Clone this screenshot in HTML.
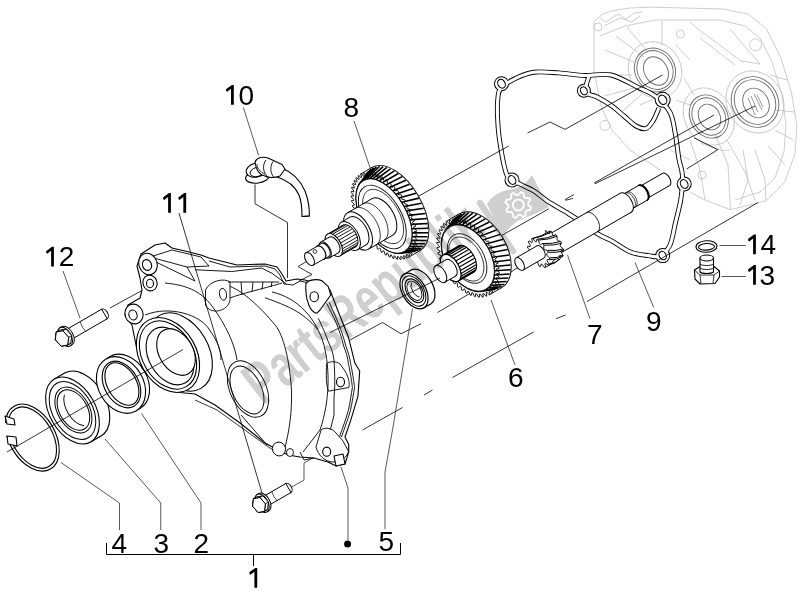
<!DOCTYPE html>
<html><head><meta charset="utf-8">
<style>
html,body{margin:0;padding:0;background:#fff;}
body{width:800px;height:600px;overflow:hidden;position:relative;}
svg{position:absolute;left:0;top:0;}
.t{font-family:"Liberation Sans",sans-serif;font-size:28px;fill:#000;}
.wm{font-family:"Liberation Sans",sans-serif;font-weight:bold;font-size:49px;fill:#cfcfcf;}
</style></head><body>
<svg width="800" height="600" viewBox="0 0 800 600">
<defs>
<symbol id="bolt" overflow="visible">
</symbol>
</defs>

<!-- CRANKCASE GHOST -->
<g id="case" fill="none" stroke="#c0c0c0" stroke-width="0.8" stroke-linejoin="round">
<path d="M594 21.5 L603 14 L612 10.75 L630 8 L651.7 7.2 L723 9 L748.5 14.3 L766.4 28.7 L780.7 57.3 L791.5 93 L796.8 125.4 L795 154 L784.3 182.8 L766.4 200.7 L730.5 209.7 L705 200 L690 192"/>
<path d="M594 21.5 L594 71.7 L601.5 107.5 L612 130 L630 150 L660 170"/>
<path d="M600 18 L606 22 L618 14 L626 19 L634 13 L642 12 M604 26 L620 18 L632 22 L640 16"/>
<path d="M600 36 L625 26 L655 20 L720 20 L745 26 L760 38 L772 62 L782 95 L786 125 L784 152 L775 178 L760 192 L735 200"/>
<path d="M616 36 L644 57 M627 27 L648 52 M662 21 L662 46 M605 50 L634 62 M602 75 L632 75 M604 96 L634 88 M618 115 L642 94"/>
<path d="M698 29 L741 61 L760 64 L730 29 M700 38 L735 65 M690 22 L698 29"/>
<path d="M676 45 L690 60 M684 78 L694 95 M676 100 L690 105 M640 105 L660 96"/>
<path d="M770 75 L787 80 M775 110 L794 112 M775 130 L793 140 M768 146 L785 165 M755 150 L765 180 L766 200 M743 150 L748 180 L740 205"/>
<path d="M716 136 L728 165 L730.5 209.7 M727 140 L745 172 L755 200 M700 143 L722 150.5 L730 150"/>
<path d="M690 140 L700 170 L705 200 M670 150 L690 160"/>
<circle cx="598" cy="27" r="4"/><circle cx="680.4" cy="34" r="4"/><circle cx="755.6" cy="44.8" r="6"/>
<circle cx="605" cy="125.4" r="5"/><circle cx="702" cy="175" r="4"/>
<ellipse cx="655" cy="70" rx="26" ry="29" transform="rotate(-30 655 70)"/>
<ellipse cx="708.8" cy="116.5" rx="24" ry="30" transform="rotate(-30 708.8 116.5)"/>
<ellipse cx="755" cy="102" rx="28" ry="32" transform="rotate(-30 755 102)"/>
</g>
<g fill="none" stroke="#6a6a6a" stroke-width="0.9">
<ellipse cx="655" cy="70" rx="20" ry="22.5" transform="rotate(-30 655 70)"/>
<ellipse cx="655" cy="70" rx="17.5" ry="20" transform="rotate(-30 655 70)"/>
<ellipse cx="656" cy="71" rx="11.5" ry="15" transform="rotate(-30 656 71)"/>
<ellipse cx="708.8" cy="116.5" rx="18.5" ry="22.5" transform="rotate(-30 708.8 116.5)"/>
<ellipse cx="708.8" cy="116.5" rx="16" ry="19.5" transform="rotate(-30 708.8 116.5)"/>
<ellipse cx="709.5" cy="117" rx="10.5" ry="13.5" transform="rotate(-30 709.5 117)"/>
<ellipse cx="755" cy="102" rx="23" ry="26" transform="rotate(-30 755 102)"/>
<ellipse cx="755" cy="102" rx="20" ry="23" transform="rotate(-30 755 102)"/>
<ellipse cx="756" cy="103" rx="12.5" ry="15.5" transform="rotate(-30 756 103)"/>
<path d="M751 96 L758 112 M754 94 L762 110 M748 98 L755 115 M757 95 L763 107" stroke-width="0.7"/>
</g>
<g fill="none" stroke-linejoin="round">
<path d="M497.9 98.0 C498.5 93.3 498.0 91.3 501.0 88.0 C504.0 84.7 510.3 80.9 515.8 78.3 C521.2 75.7 526.5 73.1 533.7 72.2 C540.9 71.3 550.2 72.4 558.8 72.9 C567.3 73.5 576.3 75.2 585.0 75.5 C593.7 75.8 602.2 73.0 611.0 75.0 C619.8 77.0 630.3 83.7 637.6 87.2 C644.9 90.7 649.6 91.8 655.0 96.0 C660.4 100.2 666.6 106.0 670.0 112.3 C673.4 118.6 673.8 126.0 675.3 133.8 C676.8 141.6 677.7 152.0 678.9 158.9 C680.1 165.8 682.0 168.4 682.4 175.0 C682.8 181.6 682.2 190.2 681.0 198.3 C679.8 206.4 677.1 215.6 675.3 223.4 C673.5 231.2 672.5 239.6 670.0 245.0 C667.5 250.4 663.6 254.2 660.0 256.0 C656.4 257.8 653.3 256.3 648.4 255.6 C643.5 254.9 636.5 254.4 630.5 252.0 C624.5 249.6 618.0 244.3 612.6 241.3 C607.2 238.3 603.6 237.5 598.2 234.1 C592.8 230.7 585.5 224.8 580.0 221.0 C574.5 217.2 570.3 214.8 565.0 211.5 C559.7 208.2 553.2 204.9 548.0 201.5 C542.8 198.1 538.7 193.9 534.0 191.0 C529.3 188.1 524.5 186.7 520.0 184.0 C515.5 181.3 510.4 182.2 507.0 175.0 C503.6 167.8 501.3 150.8 499.7 141.0 C498.1 131.2 497.8 123.1 497.5 115.9 C497.2 108.7 497.3 102.7 497.9 98.0Z M589.0 76.0 C588.5 77.7 586.5 83.2 586.0 86.0 C585.5 88.8 584.2 91.2 586.0 93.0 C587.8 94.8 592.7 94.8 597.0 97.0 C601.3 99.2 607.5 102.8 612.0 106.0 C616.5 109.2 620.0 112.7 624.0 116.0 C628.0 119.3 632.3 123.9 636.0 126.0 C639.7 128.1 643.2 129.3 646.0 128.5 C648.8 127.7 650.8 124.4 653.0 121.0 C655.2 117.6 658.0 110.2 659.0 108.0" stroke="#000" stroke-width="4.9"/>
<circle cx="501.5" cy="83.7" r="7.5" fill="#000"/>
<circle cx="583.9" cy="90.8" r="7" fill="#000"/>
<circle cx="662.7" cy="99.8" r="8" fill="#000"/>
<circle cx="684.2" cy="184" r="7.5" fill="#000"/>
<circle cx="662.7" cy="255.6" r="7.5" fill="#000"/>
<circle cx="512" cy="180" r="7.5" fill="#000"/>
<path d="M497.9 98.0 C498.5 93.3 498.0 91.3 501.0 88.0 C504.0 84.7 510.3 80.9 515.8 78.3 C521.2 75.7 526.5 73.1 533.7 72.2 C540.9 71.3 550.2 72.4 558.8 72.9 C567.3 73.5 576.3 75.2 585.0 75.5 C593.7 75.8 602.2 73.0 611.0 75.0 C619.8 77.0 630.3 83.7 637.6 87.2 C644.9 90.7 649.6 91.8 655.0 96.0 C660.4 100.2 666.6 106.0 670.0 112.3 C673.4 118.6 673.8 126.0 675.3 133.8 C676.8 141.6 677.7 152.0 678.9 158.9 C680.1 165.8 682.0 168.4 682.4 175.0 C682.8 181.6 682.2 190.2 681.0 198.3 C679.8 206.4 677.1 215.6 675.3 223.4 C673.5 231.2 672.5 239.6 670.0 245.0 C667.5 250.4 663.6 254.2 660.0 256.0 C656.4 257.8 653.3 256.3 648.4 255.6 C643.5 254.9 636.5 254.4 630.5 252.0 C624.5 249.6 618.0 244.3 612.6 241.3 C607.2 238.3 603.6 237.5 598.2 234.1 C592.8 230.7 585.5 224.8 580.0 221.0 C574.5 217.2 570.3 214.8 565.0 211.5 C559.7 208.2 553.2 204.9 548.0 201.5 C542.8 198.1 538.7 193.9 534.0 191.0 C529.3 188.1 524.5 186.7 520.0 184.0 C515.5 181.3 510.4 182.2 507.0 175.0 C503.6 167.8 501.3 150.8 499.7 141.0 C498.1 131.2 497.8 123.1 497.5 115.9 C497.2 108.7 497.3 102.7 497.9 98.0Z M589.0 76.0 C588.5 77.7 586.5 83.2 586.0 86.0 C585.5 88.8 584.2 91.2 586.0 93.0 C587.8 94.8 592.7 94.8 597.0 97.0 C601.3 99.2 607.5 102.8 612.0 106.0 C616.5 109.2 620.0 112.7 624.0 116.0 C628.0 119.3 632.3 123.9 636.0 126.0 C639.7 128.1 643.2 129.3 646.0 128.5 C648.8 127.7 650.8 124.4 653.0 121.0 C655.2 117.6 658.0 110.2 659.0 108.0" stroke="#fff" stroke-width="3.1"/>
<circle cx="501.5" cy="83.7" r="6.5" fill="#fff"/>
<circle cx="583.9" cy="90.8" r="6.0" fill="#fff"/>
<circle cx="662.7" cy="99.8" r="7.0" fill="#fff"/>
<circle cx="684.2" cy="184" r="6.5" fill="#fff"/>
<circle cx="662.7" cy="255.6" r="6.5" fill="#fff"/>
<circle cx="512" cy="180" r="6.5" fill="#fff"/>
<ellipse cx="501.5" cy="83.7" rx="3.57" ry="4.620000000000001" transform="rotate(-30 501.5 83.7)" stroke="#000" stroke-width="1.1" fill="#fff"/>
<ellipse cx="583.9" cy="90.8" rx="3.23" ry="4.18" transform="rotate(-30 583.9 90.8)" stroke="#000" stroke-width="1.1" fill="#fff"/>
<ellipse cx="662.7" cy="99.8" rx="3.8249999999999997" ry="4.95" transform="rotate(-30 662.7 99.8)" stroke="#000" stroke-width="1.1" fill="#fff"/>
<ellipse cx="684.2" cy="184" rx="3.57" ry="4.620000000000001" transform="rotate(-30 684.2 184)" stroke="#000" stroke-width="1.1" fill="#fff"/>
<ellipse cx="662.7" cy="255.6" rx="3.4" ry="4.4" transform="rotate(-30 662.7 255.6)" stroke="#000" stroke-width="1.1" fill="#fff"/>
<ellipse cx="512" cy="180" rx="3.57" ry="4.620000000000001" transform="rotate(-30 512 180)" stroke="#000" stroke-width="1.1" fill="#fff"/>
</g>
<!-- AXIS / DASHED LINES -->
<g fill="none" stroke="#000" stroke-width="0.8">
<path d="M110 308 L151 285.5"/>
<path d="M350 340 L382.5 322.5 L401 333.75 L421 323.75 M437.5 312.5 L480 287.5"/>
<path d="M362.5 430 L402.5 407.5 M424 395 L432.5 390 M452.5 377.5 L533.75 331.9 M556 318.75 L565.6 315 M587 301.5 L758 202.5"/>
<path d="M390 212 L508.7 146 M527.5 133 L550 122 L565 129.4 L662.5 75"/>
<path d="M493.75 240.0 L548.75 208.8 M565 199.6 L574 194.5 M594 183.1 L714 115"/>
<path d="M694 137.8 L717.8 149.7 L686.6 169"/>
<path d="M595 183.75 L755 106"/>
<path d="M507.5 274.4 L520 266"/>
<path d="M565.6 200.3 L573 198.4"/>
</g>
<!-- LEADERS -->
<g fill="none" stroke="#222" stroke-width="0.75">
<path d="M243.4 107.6 L258.6 155.4"/>
<path d="M354 121 L370.5 169"/>
<path d="M63 271 L80 318"/>
<path d="M719.5 245.5 H746"/>
<path d="M721.5 276.5 H746"/>
<path d="M635 262.5 L653.75 307.5"/>
<path d="M567.5 255 L590 318.75"/>
<path d="M491 300 L515 365"/>
<path d="M412.5 308.75 L392.5 430 L385 472 V529"/>
<path d="M341 467 L348 488 V540"/>
<path d="M61 462.5 L119.5 503 V530"/>
<path d="M105 439 L160.75 503 V530"/>
<path d="M141.5 413.5 L201 503 V530"/>
<path d="M290.8 487.5 L304 480 V463 L326.7 450"/>
</g>

<!-- bracket -->
<g fill="none" stroke="#000" stroke-width="1">
<path d="M106.5 543 V554.5 H400.5 V543"/>
<path d="M253.5 554.5 V566"/>
</g>
<circle cx="347.6" cy="544" r="3.5" fill="#000"/>

<g class="t">
<text x="238.4" y="104.5">0</text>
<text x="343.4" y="117">8</text>
<text x="58.75" y="266">2</text>
<text x="760.5" y="254">4</text>
<text x="759.5" y="284.5">3</text>
<text x="646" y="331">9</text>
<text x="587" y="344">7</text>
<text x="508" y="387">6</text>
<text x="378.4" y="551.4">5</text>
<text x="111.5" y="552.5">4</text>
<text x="153.5" y="552.5">3</text>
<text x="193.5" y="552.5">2</text>
</g>
<path fill="#000" d="M231.90 84.90 L233.80 84.90 L233.80 104.65 L231.00 104.65 L231.00 88.80 L227.10 91.80 L225.90 90.60 L226.20 89.10Z M169.00 193.00 L170.90 193.00 L170.90 212.75 L168.10 212.75 L168.10 196.90 L164.20 199.90 L163.00 198.70 L163.30 197.20Z M184.25 193.00 L186.15 193.00 L186.15 212.75 L183.35 212.75 L183.35 196.90 L179.45 199.90 L178.25 198.70 L178.55 197.20Z M52.00 246.75 L53.90 246.75 L53.90 266.50 L51.10 266.50 L51.10 250.65 L47.20 253.65 L46.00 252.45 L46.30 250.95Z M754.00 234.50 L755.90 234.50 L755.90 254.25 L753.10 254.25 L753.10 238.40 L749.20 241.40 L748.00 240.20 L748.30 238.70Z M754.00 265.00 L755.90 265.00 L755.90 284.75 L753.10 284.75 L753.10 268.90 L749.20 271.90 L748.00 270.70 L748.30 269.20Z M255.30 567.90 L257.20 567.90 L257.20 587.65 L254.40 587.65 L254.40 571.80 L250.50 574.80 L249.30 573.60 L249.60 572.10Z"/>

<!-- PARTS -->
<g fill="#fff" stroke="#000" stroke-width="1.1" stroke-linejoin="round">
<!-- circlip 4 -->
<ellipse cx="32.3" cy="437.6" rx="23" ry="36.3" transform="rotate(-30 32.3 437.6)"/>
<ellipse cx="32.3" cy="437.6" rx="20.3" ry="33.4" transform="rotate(-30 32.3 437.6)"/>
<rect x="0" y="423" width="13" height="13" stroke="none"/>
<path d="M5 416 L14 419 L15 425 L7 424 Z"/>
<path d="M7 436 L16 437 L17 446 L8 444 Z"/>
<g><ellipse cx="82.9" cy="404.5" rx="22.9" ry="36.3" transform="rotate(-30 82.9 404.5)" fill="#fff" stroke="#000" stroke-width="1.1" />
<path d="M101.0 435.9 L90.6 441.9 L54.4 379.1 L64.7 373.1" fill="#fff" stroke="#000" stroke-width="1.1"/>
<ellipse cx="72.5" cy="410.5" rx="22.9" ry="36.3" transform="rotate(-30 72.5 410.5)" fill="#fff" stroke="#000" stroke-width="1.1" />
<ellipse cx="72.5" cy="410.5" rx="19.8" ry="31.5" transform="rotate(-30 72.5 410.5)" fill="none" stroke="#000" stroke-width="1.0" />
<ellipse cx="73.4" cy="410.0" rx="15.8" ry="25.0" transform="rotate(-30 73.4 410.0)" fill="#fff" stroke="#000" stroke-width="1.0" />
<ellipse cx="73.4" cy="410.0" rx="13.9" ry="22.0" transform="rotate(-30 73.4 410.0)" fill="#fff" stroke="#000" stroke-width="1.0" />
<ellipse cx="79.4" cy="406.5" rx="13.2" ry="21.0" transform="rotate(-30 79.4 406.5)" fill="none" stroke="#000" stroke-width="0.9" stroke-dasharray="0 33 40 200"/></g>
<!-- seal 2 -->
<ellipse cx="125" cy="382.5" rx="22.5" ry="30" transform="rotate(-30 125 382.5)"/>
<ellipse cx="121" cy="385" rx="22.5" ry="30" transform="rotate(-30 121 385)"/>
<ellipse cx="121.5" cy="384.5" rx="17" ry="25" transform="rotate(-30 121.5 384.5)"/>
<ellipse cx="121.9" cy="384" rx="14.5" ry="23" transform="rotate(-30 121.9 384)"/>
</g>

<!-- COVER 11 -->
<g fill="#fff" stroke="#000" stroke-width="1.1" stroke-linejoin="round">
<path d="M141 254 L155 245 L165 243 L172 248 L185 251 L201 255 L209 258 L229 263 L237 265 L265 264 L277 267 L282 274 L286 281 L297 279 L305 280 L314 283 L322 281 L330 290 L338.3 311.7 L348.3 336.7 L355 363.3 L359.7 371 L357.9 396.7 L350.6 420.6 L345 437 L348.7 444.4 L348.7 452 L345 464 L336 466 L328 462 L314 458 L300 457 L288 455 L276 449 L265 443 L240 423 L215 405 L195 394 L175 392 L158 385 L142 368 L136 345 L132 325 L125 315 L128 305 L140 298 L142 290 L140 278 L137 266 Z"/>
<g fill="none" stroke-width="0.9">
<path d="M150 257 L172 250 L201 257 L209 266 L187 267 Z"/>
<path d="M156 262 L195 281 L187 267"/>
<path d="M195 269.75 L231.75 271.5 L261.5 268 L272 273.25 L286 283.75"/>
<path d="M209 261 L230 267 L265 266 L275 269 L280 275 L284 284 L293 285 L300 281 L314 284"/>
<path d="M228 282 L279 282 M230 298 C240 294 262 289 282 283 M241 282 L242 295 M253 282 L252 292 M263 282 L262 289.5 M272 282 L271 287"/>
<path d="M205.5 290 C210 280 225 278 230 282 L230 300 C228 312 210 315 205.5 305 Z"/>
<path d="M265 297.75 C280 303 292 308 300 313.5 C308 319 313 324 317.5 329.25"/>
<path d="M165 283 C185 285 200 290 212 306 C226 325 235 345 237 360"/>
<path d="M145 315 C170 305 200 315 209 329 C218 342 221 350 221 360"/>
<path d="M272 292 C298 298 316 318 324 345 C330 370 330 400 320 430 L303 452"/>
<path d="M229.8 286.3 C245 292 265 312 277 327.5 C285 340 290 365 291.5 390.8 C292 410 290 430 283.6 452.5"/>




<path d="M300 452 L304 460 L314 458"/>
<path d="M326.7 303.3 C330 310 333 316 335 320 C339 330 342 338 343.3 345 C346 352 348 358 348.3 363.3 C351 375 352.4 387.5 352.4 387.5 C350 402 349 410 346.9 415 C344 425 341 432 339.5 437"/>
<path d="M329 302 C332 309 335 315 337 320 C341 330 344 338 345.5 345 C348 352 350 358 350.6 363.3 C353 375 354.6 387.5 354.6 387.5 C352 402 351 410 349 415 C346 425 343 432 341.5 437"/>
<path d="M318.3 318.3 C322 326 326 335 328.3 341.7 C331 348 333 352 334 360 C335 375 335 390 334 396.7 L334 415 L330.4 429.7"/>
<path d="M326.7 363.7 C330 361 336 361 340 364 L345 371 C349 378 350 384 348.7 387.5 L328.5 391.2 C326 385 326 375 326.7 363.7 Z"/>
<path d="M321.2 429.7 C326 427 332 428 336 433 L343 441 L348.7 451.7 C346 458 340 462 333 462 C325 462 318 455 316 447 Z"/>
<path d="M241 415 L267 445"/>
</g>
<ellipse cx="248" cy="389" rx="18" ry="30" transform="rotate(-25 248 389)" fill="none" stroke-width="0.9"/>
<ellipse cx="247" cy="390" rx="14.5" ry="25.5" transform="rotate(-25 247 390)" fill="none" stroke-width="0.9"/>
<ellipse cx="148" cy="264" rx="9" ry="11" transform="rotate(-20 148 264)"/><ellipse cx="147" cy="265" rx="4.5" ry="5.5" transform="rotate(-20 147 265)"/>
<ellipse cx="150" cy="283" rx="7" ry="8" transform="rotate(-20 150 283)"/><ellipse cx="150" cy="283.5" rx="3.5" ry="4.2"/>
<ellipse cx="134" cy="314" rx="9" ry="10" transform="rotate(-20 134 314)"/><ellipse cx="133" cy="315" rx="4" ry="5" transform="rotate(-20 133 315)"/>
<ellipse cx="223" cy="294.25" rx="3.5" ry="6" transform="rotate(-10 223 294.25)" fill="none" stroke-width="0.9"/>
<path d="M305.8 284 C308 279 318 279 322 280.8 L328.3 286.7 L330.8 295 L320 310 L316.7 313.3 C310 312 306 300 305.8 290 Z"/>
<ellipse cx="314.2" cy="296.7" rx="4.2" ry="5"/>
<ellipse cx="340.5" cy="382" rx="4" ry="4.8"/>
<ellipse cx="326.7" cy="451.7" rx="4" ry="4.6"/>
<path d="M334 456 L343 454 L345 464 L336 466 Z"/>
<path d="M195 400 L217 410 L242 428 L267 446 L276 452" fill="none" stroke-width="0.8"/>
<ellipse cx="279" cy="449" rx="6.5" ry="7" transform="rotate(-20 279 449)" stroke-width="0.9"/>
<ellipse cx="290" cy="452.5" rx="3.5" ry="4" stroke-width="0.9"/>
<!-- bore -->
<ellipse cx="180" cy="352" rx="28.5" ry="42" transform="rotate(-30 180 352)"/>
<ellipse cx="168" cy="355" rx="28.3" ry="40" transform="rotate(-30 168 355)"/>
<ellipse cx="168" cy="355" rx="25.5" ry="36.5" transform="rotate(-30 168 355)"/>
<ellipse cx="170" cy="356" rx="21" ry="31" transform="rotate(-30 170 356)"/>
<ellipse cx="176" cy="352" rx="17" ry="25" transform="rotate(-30 176 352)"/>
</g>
<!-- cover bore axis line on top -->
<path d="M7 452 L183 349.5" stroke="#000" stroke-width="0.8" fill="none"/>

<g fill="none" stroke="#000" stroke-width="0.8">
<path d="M179 213 L262 493"/>
<path d="M255 184.4 V203.75 L287.5 222.5 V278"/>
<path d="M309 260 L298 266.5 L312 274.5 L299 281"/>
</g>
<g stroke-linejoin='round'><ellipse cx="104.4" cy="314.0" rx="3.3" ry="5.5" transform="rotate(-30 104.4 314.0)" fill="#fff" stroke="#000" stroke-width="1.0" />
<path d="M69.9 340.3 L107.2 318.8 L101.7 309.2 L64.4 330.7" fill="#fff" stroke="#000" stroke-width="1.0"/>
<path d="M80.1 321.7 Q81.8 327.5 85.6 331.2" fill="none" stroke="#000" stroke-width="0.7"/>
<ellipse cx="66.8" cy="335.8" rx="6.3" ry="10.5" transform="rotate(-30 66.8 335.8)" fill="#fff" stroke="#000" stroke-width="1.0" />
<path d="M72.0 344.8 L70.3 345.8 L59.8 327.7 L61.5 326.7" fill="#fff" stroke="#000" stroke-width="1.0"/>
<ellipse cx="65.0" cy="336.8" rx="6.3" ry="10.5" transform="rotate(-30 65.0 336.8)" fill="#fff" stroke="#000" stroke-width="1.0" />
<path d="M55.3 339.7 L56.3 332.0 L59.3 330.2 L66.0 329.0 L71.7 335.5 L70.8 343.3 L67.7 345.0 L61.1 346.2Z" fill="#fff" stroke="#000" stroke-width="1.0"/>
<path d="M68.7 337.3 L67.7 345.0 L61.1 346.2 L55.3 339.7 L56.3 332.0 L62.9 330.8Z" fill="#fff" stroke="#000" stroke-width="1.0"/>
<path d="M68.7 337.3 L71.7 335.5 M67.7 345.0 L70.8 343.3 M61.1 346.2 L64.1 344.5 M55.3 339.7 L58.4 338.0 M56.3 332.0 L59.3 330.2 M62.9 330.8 L66.0 329.0" fill="none" stroke="#000" stroke-width="0.8"/>
<path d="M68.7 337.3 L67.7 345.0 L61.1 346.2 L55.3 339.7 L56.3 332.0 L62.9 330.8Z" fill="#fff" stroke="#000" stroke-width="1.0"/></g><g stroke-linejoin='round'><ellipse cx="288.4" cy="488.0" rx="3.1" ry="5.2" transform="rotate(-30 288.4 488.0)" fill="#fff" stroke="#000" stroke-width="1.0" />
<path d="M266.8 506.5 L291.0 492.5 L285.8 483.5 L261.6 497.5" fill="#fff" stroke="#000" stroke-width="1.0"/>
<path d="M271.8 491.6 Q273.4 497.1 277.0 500.6" fill="none" stroke="#000" stroke-width="0.7"/>
<ellipse cx="263.8" cy="502.2" rx="6.0" ry="10.0" transform="rotate(-30 263.8 502.2)" fill="#fff" stroke="#000" stroke-width="1.0" />
<path d="M268.8 510.9 L267.0 511.9 L257.0 494.6 L258.8 493.6" fill="#fff" stroke="#000" stroke-width="1.0"/>
<ellipse cx="262.0" cy="503.2" rx="6.0" ry="10.0" transform="rotate(-30 262.0 503.2)" fill="#fff" stroke="#000" stroke-width="1.0" />
<path d="M252.6 506.2 L253.5 498.7 L256.5 497.0 L262.9 495.8 L268.5 502.1 L267.6 509.5 L264.5 511.3 L258.1 512.5Z" fill="#fff" stroke="#000" stroke-width="1.0"/>
<path d="M265.4 503.8 L264.5 511.3 L258.1 512.5 L252.6 506.2 L253.5 498.7 L259.9 497.5Z" fill="#fff" stroke="#000" stroke-width="1.0"/>
<path d="M265.4 503.8 L268.5 502.1 M264.5 511.3 L267.6 509.5 M258.1 512.5 L261.1 510.7 M252.6 506.2 L255.6 504.4 M253.5 498.7 L256.5 497.0 M259.9 497.5 L262.9 495.8" fill="none" stroke="#000" stroke-width="0.8"/>
<path d="M265.4 503.8 L264.5 511.3 L258.1 512.5 L252.6 506.2 L253.5 498.7 L259.9 497.5Z" fill="#fff" stroke="#000" stroke-width="1.0"/></g>
<!-- HOSE 10 -->
<g fill="#fff" stroke="#000" stroke-width="1.1" stroke-linejoin="round">
<path d="M282.5 168.5 C292 172 300 180 305 191 C308.5 200 309.5 208 309.4 216 L302 216.5 C302 208 301 200 299 195 C295 186 287 180 277 177 Z"/>
<ellipse cx="257.5" cy="177" rx="12" ry="6" transform="rotate(-8 257.5 177)"/>
<ellipse cx="256.5" cy="170" rx="10.5" ry="7" transform="rotate(-15 256.5 170)"/>
<ellipse cx="257" cy="172" rx="7" ry="4.5" transform="rotate(-15 257 172)" fill="none" stroke-width="0.9"/>
<path d="M255 162 C257 157 263 156.5 268 158 L282 164.5 L285 169 L280 176 C275 178 268 178 265 176 C260 175 256 170 255 162 Z"/>
<path d="M266 160 C262 165 263 173 268 177 M273 161.5 C270 166 270 173 274 177.5" fill="none" stroke-width="0.9"/>
<path d="M257 164 C257 168 260 172 265 174" fill="none" stroke-width="0.8"/>
</g>
<path d="M302 216.5 L309.4 216" stroke="#000" stroke-width="1.1"/>
<g><ellipse cx="396.0" cy="209.0" rx="25.9" ry="48.0" transform="rotate(-30 396.0 209.0)" fill="#fff" stroke="#000" stroke-width="0.9" />
<path d="M408.0 257.6 L420.0 250.6 L372.0 167.4 L360.0 174.4" fill="#fff" stroke="#000" stroke-width="0.9"/>
<path d="M404.9 203.9 L407.2 204.3 L407.9 205.6 L406.8 207.5 L407.4 208.7 L409.8 209.4 L410.4 210.7 L409.1 212.3 L409.6 213.5 L412.1 214.7 L412.6 216.0 L411.0 217.2 L411.4 218.4 L413.9 219.9 L414.3 221.2 L412.5 222.1 L412.9 223.3 L415.3 225.1 L415.6 226.4 L413.6 226.9 L413.9 228.0 L416.3 230.2 L416.5 231.4 L414.3 231.5 L414.4 232.6 L416.8 235.1 L416.8 236.2 L414.6 235.9 L414.6 236.9 L416.8 239.6 L416.7 240.7 L414.4 240.0 L414.2 241.0 L416.3 243.9 L416.2 244.9 L413.7 243.8 L413.5 244.6 L415.4 247.7 L415.1 248.6 L412.6 247.1 L412.3 247.9 L414.0 251.1 L413.6 251.8 L411.1 250.0 L410.7 250.7 L412.2 253.9 L411.7 254.6 L409.2 252.4 L408.7 252.9 L409.9 256.2 L409.3 256.7 L406.9 254.3 L406.3 254.7 L407.3 257.9 L406.6 258.3 L404.3 255.6 L403.6 255.8 L404.3 259.0 L403.6 259.2 L401.4 256.3 L400.7 256.4 L401.1 259.5 L400.2 259.5 L398.3 256.5 L397.5 256.4 L397.6 259.4 L396.7 259.2 L394.9 256.0 L394.1 255.8 L393.9 258.6 L392.9 258.3 L391.4 255.0 L390.5 254.7 L390.0 257.2 L389.0 256.7 L387.8 253.4 L386.9 252.9 L386.1 255.2 L385.1 254.6 L384.1 251.3 L383.2 250.7 L382.1 252.6 L381.1 251.8 L380.4 248.6 L379.5 247.9 L378.2 249.5 L377.2 248.6 L376.8 245.5 L375.9 244.6 L374.3 245.8 L373.4 244.9 L373.3 241.9 L372.4 241.0 L370.6 241.8 L369.7 240.7 L369.9 238.0 L369.1 237.0 L367.1 237.4 L366.2 236.2 L366.7 233.7 L366.0 232.6 L363.8 232.7 L363.0 231.4 L363.8 229.2 L363.1 228.1 L360.8 227.7 L360.1 226.4 L361.2 224.5 L360.6 223.3 L358.2 222.6 L357.6 221.3 L358.9 219.7 L358.4 218.5 L355.9 217.3 L355.4 216.0 L357.0 214.8 L356.6 213.6 L354.1 212.1 L353.7 210.8 L355.5 209.9 L355.1 208.7 L352.7 206.9 L352.4 205.6 L354.4 205.1 L354.1 204.0 L351.7 201.8 L351.5 200.6 L353.7 200.5 L353.6 199.4 L351.2 196.9 L351.2 195.8 L353.4 196.1 L353.4 195.1 L351.2 192.4 L351.3 191.3 L353.6 192.0 L353.8 191.0 L351.7 188.1 L351.8 187.1 L354.3 188.2 L354.5 187.4 L352.6 184.3 L352.9 183.4 L355.4 184.9 L355.7 184.1 L354.0 180.9 L354.4 180.2 L356.9 182.0 L357.3 181.3 L355.8 178.1 L356.3 177.4 L358.8 179.6 L359.3 179.1 L358.1 175.8 L358.7 175.3 L361.1 177.7 L361.7 177.3 L360.7 174.1 L361.4 173.7 L363.7 176.4 L364.4 176.2 L363.7 173.0 L364.4 172.8 L366.6 175.7 L367.3 175.6 L366.9 172.5 L367.8 172.5 L369.7 175.5 L370.5 175.6 L370.4 172.6 L371.3 172.8 L373.1 176.0 L373.9 176.2 L374.1 173.4 L375.1 173.7 L376.6 177.0 L377.5 177.3 L378.0 174.8 L379.0 175.3 L380.2 178.6 L381.1 179.1 L381.9 176.8 L382.9 177.4 L383.9 180.7 L384.8 181.3 L385.9 179.4 L386.9 180.2 L387.6 183.4 L388.5 184.1 L389.8 182.5 L390.8 183.4 L391.2 186.5 L392.1 187.4 L393.7 186.2 L394.6 187.1 L394.7 190.1 L395.6 191.0 L397.4 190.2 L398.3 191.3 L398.1 194.0 L398.9 195.0 L400.9 194.6 L401.8 195.8 L401.3 198.3 L402.0 199.4 L404.2 199.3 L405.0 200.6 L404.2 202.8Z" fill="#fff" stroke="#000" stroke-width="0.9"/>
<path d="M404.2 206.5 L421.6 203.2 M406.5 210.9 L423.7 208.3 M408.4 215.4 L425.5 213.5 M409.9 219.9 L426.9 218.5 M411.1 224.4 L427.7 223.5 M411.9 228.7 L428.2 228.2 M412.2 232.9 L428.1 232.7 M412.2 236.8 L427.6 236.8 M411.7 240.4 L426.6 240.5 M410.9 243.6 L425.2 243.7 M409.6 246.5 L423.4 246.5 M408.0 248.9 L421.1 248.7 M406.0 250.8 L418.5 250.3 M403.7 252.2 L415.6 251.3 M401.2 253.1 L412.4 251.7 M398.3 253.4 L408.9 251.4 M358.4 185.5 L368.6 171.5 M360.0 183.1 L370.9 169.3 M362.0 181.2 L373.5 167.7 M364.3 179.8 L376.4 166.7 M366.8 178.9 L379.6 166.3 M369.7 178.6 L383.1 166.6 M372.7 178.8 L386.8 167.4 M375.9 179.5 L390.5 168.9 M379.2 180.8 L394.4 170.9 M382.6 182.6 L398.3 173.5 M386.0 184.9 L402.2 176.6 M389.4 187.6 L405.9 180.2 M392.7 190.7 L409.5 184.2 M395.9 194.3 L413.0 188.6 M398.9 198.1 L416.1 193.2 M401.7 202.2 L419.0 198.1" fill="none" stroke="#000" stroke-width="1.6"/>
<ellipse cx="384.0" cy="216.0" rx="22.3" ry="41.3" transform="rotate(-30 384.0 216.0)" fill="#fff" stroke="#000" stroke-width="0.9" />
<ellipse cx="384.0" cy="216.0" rx="22.1" ry="41.0" transform="rotate(-30 384.0 216.0)" fill="#fff" stroke="#000" stroke-width="0.9" />
<ellipse cx="382.3" cy="217.0" rx="18.9" ry="35.0" transform="rotate(-30 382.3 217.0)" fill="#fff" stroke="#000" stroke-width="0.9" />
<ellipse cx="383.1" cy="216.5" rx="16.2" ry="30.0" transform="rotate(-30 383.1 216.5)" fill="none" stroke="#000" stroke-width="0.7" />
<ellipse cx="382.3" cy="217.0" rx="11.6" ry="21.0" transform="rotate(-30 382.3 217.0)" fill="#fff" stroke="#000" stroke-width="1.0" />
<path d="M392.8 235.2 L368.5 249.2 L347.5 212.8 L371.8 198.8" fill="#fff" stroke="#000" stroke-width="1.0"/>
<ellipse cx="358.0" cy="231.0" rx="11.6" ry="21.0" transform="rotate(-30 358.0 231.0)" fill="#fff" stroke="#000" stroke-width="1.0" />
<path d="M363.1 203.8 L364.5 203.2 L366.1 202.9 L367.7 203.0 L369.5 203.4 L371.4 204.1 L373.3 205.1 L375.2 206.3 L377.0 207.9 L378.8 209.7 L380.6 211.7 L382.2 213.9 L383.6 216.2 L384.9 218.6 L386.0 221.1 L386.9 223.6 L387.5 226.1 L387.9 228.5 L388.1 230.8 L388.0 232.9 L387.7 234.9 L387.1 236.6 L386.3 238.1 L385.3 239.3 L384.1 240.2" fill="none" stroke="#000" stroke-width="0.8"/>
<path d="M355.3 208.3 L356.7 207.7 L358.3 207.4 L359.9 207.5 L361.7 207.9 L363.6 208.6 L365.5 209.6 L367.4 210.8 L369.2 212.4 L371.0 214.2 L372.8 216.2 L374.4 218.4 L375.8 220.7 L377.1 223.1 L378.2 225.6 L379.1 228.1 L379.7 230.6 L380.1 233.0 L380.3 235.3 L380.2 237.4 L379.9 239.4 L379.3 241.1 L378.5 242.6 L377.5 243.8 L376.3 244.7" fill="none" stroke="#000" stroke-width="0.8"/>
<ellipse cx="358.0" cy="231.0" rx="8.8" ry="16.0" transform="rotate(-30 358.0 231.0)" fill="#fff" stroke="#000" stroke-width="1.0" />
<path d="M366.0 244.9 L357.4 249.9 L341.4 222.1 L350.0 217.1" fill="#fff" stroke="#000" stroke-width="1.0"/>
<ellipse cx="349.4" cy="236.0" rx="8.8" ry="16.0" transform="rotate(-30 349.4 236.0)" fill="#fff" stroke="#000" stroke-width="1.0" />
<ellipse cx="349.4" cy="236.0" rx="6.9" ry="12.5" transform="rotate(-30 349.4 236.0)" fill="#fff" stroke="#000" stroke-width="0.9" />
<path d="M355.6 246.8 L340.0 255.8 L327.5 234.2 L343.1 225.2" fill="#fff" stroke="#000" stroke-width="0.9"/>
<ellipse cx="333.8" cy="245.0" rx="6.9" ry="12.5" transform="rotate(-30 333.8 245.0)" fill="#fff" stroke="#000" stroke-width="0.9" />
<path d="M343.9 224.8 L328.4 233.8 M345.9 224.7 L330.3 233.7 M348.0 225.3 L332.4 234.3 M350.3 226.7 L334.7 235.7 M352.5 228.7 L336.9 237.7 M354.4 231.2 L338.9 240.2 M356.1 234.0 L340.5 243.0 M357.3 237.0 L341.7 246.0 M357.9 239.9 L342.3 248.9 M357.9 242.5 L342.4 251.5 M357.4 244.7 L341.8 253.7 M356.3 246.3 L340.7 255.3" fill="none" stroke="#000" stroke-width="0.9"/>
<ellipse cx="333.8" cy="245.0" rx="6.9" ry="12.5" transform="rotate(-30 333.8 245.0)" fill="#fff" stroke="#000" stroke-width="0.9" />
<ellipse cx="333.8" cy="245.0" rx="5.0" ry="9.0" transform="rotate(-30 333.8 245.0)" fill="#fff" stroke="#000" stroke-width="1.0" />
<path d="M338.3 252.8 L329.6 257.8 L320.6 242.2 L329.3 237.2" fill="#fff" stroke="#000" stroke-width="1.0"/>
<ellipse cx="325.1" cy="250.0" rx="5.0" ry="9.0" transform="rotate(-30 325.1 250.0)" fill="#fff" stroke="#000" stroke-width="1.0" />
<ellipse cx="325.1" cy="250.0" rx="4.1" ry="7.5" transform="rotate(-30 325.1 250.0)" fill="#fff" stroke="#000" stroke-width="1.0" />
<path d="M328.9 256.5 L324.5 259.0 L317.0 246.0 L321.4 243.5" fill="#fff" stroke="#000" stroke-width="1.0"/>
<ellipse cx="320.8" cy="252.5" rx="4.1" ry="7.5" transform="rotate(-30 320.8 252.5)" fill="#fff" stroke="#000" stroke-width="1.0" />
<ellipse cx="320.8" cy="252.5" rx="4.0" ry="7.2" transform="rotate(-30 320.8 252.5)" fill="#fff" stroke="#000" stroke-width="1.0" />
<path d="M324.4 258.7 L313.1 265.2 L305.9 252.8 L317.2 246.3" fill="#fff" stroke="#000" stroke-width="1.0"/>
<ellipse cx="309.5" cy="259.0" rx="4.0" ry="7.2" transform="rotate(-30 309.5 259.0)" fill="#fff" stroke="#000" stroke-width="1.0" />
<circle cx="314.9" cy="251.5" r="1.8" fill="#fff" stroke="#000" stroke-width="0.8"/></g>
<g><ellipse cx="420.9" cy="287.0" rx="11.7" ry="19.5" transform="rotate(-30 420.9 287.0)" fill="#fff" stroke="#000" stroke-width="1.2" />
<path d="M430.7 303.9 L423.8 307.9 L404.2 274.1 L411.2 270.1" fill="#fff" stroke="#000" stroke-width="1.2"/>
<ellipse cx="414.0" cy="291.0" rx="11.7" ry="19.5" transform="rotate(-30 414.0 291.0)" fill="#fff" stroke="#000" stroke-width="1.2" />
<ellipse cx="414.0" cy="291.0" rx="9.9" ry="16.5" transform="rotate(-30 414.0 291.0)" fill="none" stroke="#000" stroke-width="1.0" />
<ellipse cx="414.4" cy="290.8" rx="7.8" ry="13.0" transform="rotate(-30 414.4 290.8)" fill="#fff" stroke="#000" stroke-width="1.1" />
<ellipse cx="414.4" cy="290.8" rx="6.3" ry="10.5" transform="rotate(-30 414.4 290.8)" fill="none" stroke="#000" stroke-width="0.9" />
<ellipse cx="417.5" cy="289.0" rx="5.4" ry="9.0" transform="rotate(-30 417.5 289.0)" fill="none" stroke="#000" stroke-width="0.8" stroke-dasharray="0 14 18 100"/></g>
<g><ellipse cx="480.0" cy="251.0" rx="26.4" ry="42.6" transform="rotate(-30 480.0 251.0)" fill="#fff" stroke="#000" stroke-width="0.9" />
<path d="M489.3 294.9 L501.3 287.9 L458.7 214.1 L446.7 221.1" fill="#fff" stroke="#000" stroke-width="0.9"/>
<path d="M489.0 245.9 L491.6 246.1 L492.3 247.3 L490.9 249.4 L491.5 250.6 L494.2 251.3 L494.7 252.6 L493.1 254.2 L493.6 255.5 L496.2 256.6 L496.7 257.9 L494.8 259.1 L495.1 260.4 L497.8 261.9 L498.1 263.2 L495.9 264.0 L496.2 265.3 L498.8 267.2 L499.0 268.5 L496.6 268.8 L496.7 270.0 L499.2 272.3 L499.3 273.5 L496.7 273.4 L496.7 274.5 L499.1 277.1 L499.0 278.3 L496.3 277.7 L496.1 278.7 L498.4 281.6 L498.1 282.7 L495.4 281.6 L495.1 282.5 L497.1 285.6 L496.6 286.6 L493.9 285.1 L493.5 285.9 L495.2 289.2 L494.7 290.0 L492.0 288.1 L491.5 288.8 L492.9 292.1 L492.2 292.8 L489.6 290.5 L489.0 291.0 L490.1 294.4 L489.3 294.9 L486.9 292.3 L486.1 292.7 L486.8 296.0 L486.0 296.3 L483.7 293.5 L482.9 293.7 L483.3 297.0 L482.3 297.1 L480.3 294.0 L479.4 294.1 L479.4 297.2 L478.4 297.1 L476.7 293.9 L475.7 293.7 L475.4 296.6 L474.3 296.4 L472.8 293.0 L471.9 292.7 L471.2 295.4 L470.1 295.0 L468.9 291.6 L468.0 291.1 L466.9 293.4 L465.8 292.8 L465.0 289.5 L464.0 288.8 L462.6 290.8 L461.6 290.1 L461.2 286.8 L460.2 286.0 L458.5 287.6 L457.5 286.7 L457.4 283.5 L456.5 282.7 L454.5 283.8 L453.6 282.8 L453.9 279.8 L453.0 278.9 L450.8 279.6 L449.9 278.4 L450.6 275.7 L449.8 274.7 L447.4 274.9 L446.6 273.7 L447.6 271.3 L447.0 270.1 L444.4 269.9 L443.7 268.7 L445.1 266.6 L444.5 265.4 L441.8 264.7 L441.3 263.4 L442.9 261.8 L442.4 260.5 L439.8 259.4 L439.3 258.1 L441.2 256.9 L440.9 255.6 L438.2 254.1 L437.9 252.8 L440.1 252.0 L439.8 250.7 L437.2 248.8 L437.0 247.5 L439.4 247.2 L439.3 246.0 L436.8 243.7 L436.7 242.5 L439.3 242.6 L439.3 241.5 L436.9 238.9 L437.0 237.7 L439.7 238.3 L439.9 237.3 L437.6 234.4 L437.9 233.3 L440.6 234.4 L440.9 233.5 L438.9 230.4 L439.4 229.4 L442.1 230.9 L442.5 230.1 L440.8 226.8 L441.3 226.0 L444.0 227.9 L444.5 227.2 L443.1 223.9 L443.8 223.2 L446.4 225.5 L447.0 225.0 L445.9 221.6 L446.7 221.1 L449.1 223.7 L449.9 223.3 L449.2 220.0 L450.0 219.7 L452.3 222.5 L453.1 222.3 L452.7 219.0 L453.7 218.9 L455.7 222.0 L456.6 221.9 L456.6 218.8 L457.6 218.9 L459.3 222.1 L460.3 222.3 L460.6 219.4 L461.7 219.6 L463.2 223.0 L464.1 223.3 L464.8 220.6 L465.9 221.0 L467.1 224.4 L468.0 224.9 L469.1 222.6 L470.2 223.2 L471.0 226.5 L472.0 227.2 L473.4 225.2 L474.4 225.9 L474.8 229.2 L475.8 230.0 L477.5 228.4 L478.5 229.3 L478.6 232.5 L479.5 233.3 L481.5 232.2 L482.4 233.2 L482.1 236.2 L483.0 237.1 L485.2 236.4 L486.1 237.6 L485.4 240.3 L486.2 241.3 L488.6 241.1 L489.4 242.3 L488.4 244.7Z" fill="#fff" stroke="#000" stroke-width="0.9"/>
<path d="M488.6 248.3 L505.6 244.4 M490.7 252.8 L507.7 249.6 M492.5 257.3 L509.2 254.9 M493.8 261.9 L510.2 260.0 M494.6 266.5 L510.6 265.0 M494.9 270.8 L510.5 269.8 M494.7 274.9 L509.7 274.1 M494.0 278.8 L508.5 278.1 M492.8 282.2 L506.7 281.6 M491.2 285.2 L504.4 284.4 M489.1 287.6 L501.6 286.7 M486.7 289.5 L498.5 288.3 M483.8 290.9 L495.0 289.2 M480.7 291.6 L491.2 289.4 M444.8 230.8 L455.6 217.6 M446.9 228.4 L458.4 215.3 M449.3 226.5 L461.5 213.7 M452.2 225.1 L465.0 212.8 M455.3 224.4 L468.8 212.6 M458.6 224.3 L472.8 213.1 M462.1 224.9 L476.9 214.4 M465.7 226.0 L481.1 216.3 M469.4 227.8 L485.3 218.9 M473.1 230.1 L489.3 222.0 M476.6 232.9 L493.2 225.7 M480.0 236.2 L496.8 229.9 M483.2 239.9 L500.2 234.4 M486.0 244.0 L503.1 239.3" fill="none" stroke="#000" stroke-width="1.5"/>
<ellipse cx="468.0" cy="258.0" rx="22.7" ry="36.6" transform="rotate(-30 468.0 258.0)" fill="#fff" stroke="#000" stroke-width="0.9" />
<ellipse cx="468.0" cy="258.0" rx="22.3" ry="36.0" transform="rotate(-30 468.0 258.0)" fill="#fff" stroke="#000" stroke-width="0.9" />
<ellipse cx="466.3" cy="259.0" rx="14.9" ry="24.0" transform="rotate(-30 466.3 259.0)" fill="none" stroke="#000" stroke-width="0.7" />
<ellipse cx="467.1" cy="258.5" rx="16.7" ry="27.0" transform="rotate(-30 467.1 258.5)" fill="none" stroke="#000" stroke-width="0.8" />
<ellipse cx="466.3" cy="259.0" rx="8.2" ry="15.0" transform="rotate(-30 466.3 259.0)" fill="#fff" stroke="#000" stroke-width="1.1" />
<path d="M473.8 272.0 L458.2 281.0 L443.2 255.0 L458.8 246.0" fill="#fff" stroke="#000" stroke-width="1.1"/>
<ellipse cx="450.7" cy="268.0" rx="8.2" ry="15.0" transform="rotate(-30 450.7 268.0)" fill="#fff" stroke="#000" stroke-width="1.1" />
<path d="M459.7 245.6 L444.1 254.6 M461.8 245.4 L446.2 254.4 M464.2 246.0 L448.6 255.0 M466.6 247.3 L451.1 256.3 M469.1 249.3 L453.5 258.3 M471.4 251.9 L455.8 260.9 M473.4 254.9 L457.8 263.9 M475.0 258.1 L459.4 267.1 M476.1 261.4 L460.5 270.4 M476.6 264.5 L461.0 273.5 M476.5 267.3 L460.9 276.3 M475.8 269.7 L460.2 278.7 M474.6 271.4 L459.0 280.4" fill="none" stroke="#000" stroke-width="1.1"/>
<ellipse cx="450.7" cy="268.0" rx="8.2" ry="15.0" transform="rotate(-30 450.7 268.0)" fill="#fff" stroke="#000" stroke-width="1.1" />
<ellipse cx="450.7" cy="268.0" rx="5.2" ry="9.5" transform="rotate(-30 450.7 268.0)" fill="#fff" stroke="#000" stroke-width="1.0" />
<path d="M455.4 276.2 L445.0 282.2 L435.5 265.8 L445.9 259.8" fill="#fff" stroke="#000" stroke-width="1.0"/>
<ellipse cx="440.3" cy="274.0" rx="5.2" ry="9.5" transform="rotate(-30 440.3 274.0)" fill="#fff" stroke="#000" stroke-width="1.0" /></g>
<g><ellipse cx="666.0" cy="179.5" rx="3.9" ry="7.0" transform="rotate(-30 666.0 179.5)" fill="#fff" stroke="#000" stroke-width="1.0" />
<path d="M669.5 185.6 L646.9 198.6 L639.9 186.4 L662.5 173.4" fill="#fff" stroke="#000" stroke-width="1.0"/>
<ellipse cx="643.4" cy="192.5" rx="3.9" ry="7.0" transform="rotate(-30 643.4 192.5)" fill="#fff" stroke="#000" stroke-width="1.0" />
<ellipse cx="643.4" cy="192.5" rx="4.7" ry="8.5" transform="rotate(-30 643.4 192.5)" fill="#fff" stroke="#000" stroke-width="1.0" />
<path d="M647.7 199.9 L630.0 210.1 L621.5 195.3 L639.2 185.1" fill="#fff" stroke="#000" stroke-width="1.0"/>
<ellipse cx="625.8" cy="202.7" rx="4.7" ry="8.5" transform="rotate(-30 625.8 202.7)" fill="#fff" stroke="#000" stroke-width="1.0" />
<path d="M638.3 185.6 L638.9 185.4 L639.5 185.3 L640.2 185.3 L640.9 185.5 L641.7 185.7 L642.4 186.1 L643.2 186.7 L644.0 187.3 L644.7 188.0 L645.4 188.8 L646.0 189.7 L646.6 190.7 L647.1 191.6 L647.6 192.6 L647.9 193.7 L648.2 194.7 L648.4 195.6 L648.4 196.6 L648.4 197.4 L648.3 198.2 L648.1 198.9 L647.7 199.5 L647.3 200.0 L646.8 200.4" fill="none" stroke="#000" stroke-width="1.6"/>
<path d="M625.3 193.1 L625.9 192.9 L626.5 192.8 L627.2 192.8 L627.9 193.0 L628.7 193.2 L629.4 193.6 L630.2 194.2 L631.0 194.8 L631.7 195.5 L632.4 196.3 L633.0 197.2 L633.6 198.2 L634.2 199.1 L634.6 200.1 L635.0 201.2 L635.2 202.2 L635.4 203.1 L635.5 204.1 L635.4 204.9 L635.3 205.7 L635.1 206.4 L634.7 207.0 L634.3 207.5 L633.8 207.9" fill="none" stroke="#000" stroke-width="0.8"/>
<path d="M627.1 192.1 L627.6 191.9 L628.3 191.8 L628.9 191.8 L629.7 192.0 L630.4 192.2 L631.2 192.6 L631.9 193.2 L632.7 193.8 L633.4 194.5 L634.1 195.3 L634.8 196.2 L635.4 197.2 L635.9 198.1 L636.3 199.1 L636.7 200.2 L636.9 201.2 L637.1 202.1 L637.2 203.1 L637.2 203.9 L637.0 204.7 L636.8 205.4 L636.5 206.0 L636.1 206.5 L635.6 206.9" fill="none" stroke="#000" stroke-width="0.8"/>
<ellipse cx="625.8" cy="202.7" rx="6.1" ry="11.0" transform="rotate(-30 625.8 202.7)" fill="#fff" stroke="#000" stroke-width="1.0" />
<path d="M631.3 212.2 L556.3 255.5 L545.3 236.5 L620.3 193.2" fill="#fff" stroke="#000" stroke-width="1.0"/>
<ellipse cx="550.8" cy="246.0" rx="6.1" ry="11.0" transform="rotate(-30 550.8 246.0)" fill="#fff" stroke="#000" stroke-width="1.0" />
<path d="M586.5 212.7 L587.2 212.4 L588.0 212.2 L588.9 212.2 L589.9 212.4 L590.8 212.8 L591.8 213.3 L592.8 214.0 L593.8 214.8 L594.7 215.8 L595.6 216.8 L596.5 218.0 L597.2 219.2 L597.9 220.4 L598.5 221.7 L598.9 223.1 L599.3 224.3 L599.5 225.6 L599.6 226.8 L599.6 227.9 L599.4 228.9 L599.1 229.8 L598.7 230.6 L598.1 231.2 L597.5 231.7" fill="none" stroke="#000" stroke-width="0.9"/>
<path d="M560.6 246.6 L563.3 248.9 L563.5 250.7 L561.1 250.8 L561.0 252.0 L563.1 255.4 L562.6 256.6 L559.8 254.9 L559.2 255.5 L560.1 259.1 L558.9 259.4 L556.6 256.4 L555.5 256.2 L555.0 259.0 L553.6 258.4 L552.2 254.8 L551.1 253.9 L549.3 255.2 L547.9 253.7 L547.9 250.6 L547.0 249.2 L544.4 248.6 L543.5 246.7 L544.9 244.9 L544.4 243.4 L541.7 241.1 L541.5 239.3 L543.9 239.2 L544.0 238.0 L541.9 234.6 L542.4 233.4 L545.2 235.1 L545.8 234.5 L545.0 230.9 L546.1 230.6 L548.4 233.6 L549.5 233.8 L550.0 231.0 L551.4 231.6 L552.8 235.2 L553.9 236.1 L555.7 234.8 L557.1 236.3 L557.1 239.4 L558.0 240.8 L560.6 241.4 L561.5 243.3 L560.1 245.1Z" fill="#fff" stroke="#000" stroke-width="0.9"/>
<path d="M560.5 258.9 L546.7 266.9 L530.7 239.1 L544.5 231.1Z" fill="#fff" stroke="none"/>
<path d="M547.3 250.4 Q556.8 251.2 563.3 248.9 M548.1 252.3 Q557.3 253.0 563.5 250.7 M549.6 257.9 Q557.8 258.2 563.1 255.4 M549.7 259.7 Q557.6 259.7 562.6 256.6 M549.0 264.1 Q556.0 263.1 560.1 259.1 M548.4 265.2 Q555.1 263.8 558.9 259.4 M545.6 267.3 Q551.8 264.7 555.0 259.0 M531.7 238.7 Q542.4 236.3 550.0 231.0 M532.9 238.5 Q543.7 236.6 551.4 231.6 M536.9 239.3 Q547.8 238.6 555.7 234.8 M538.4 240.1 Q549.2 239.7 557.1 236.3 M542.6 243.6 Q553.1 244.0 560.6 241.4 M543.9 245.2 Q554.2 245.7 561.5 243.3" fill="none" stroke="#000" stroke-width="1.0"/>
<path d="M544.6 249.6 L547.3 250.4 L548.1 252.3 L546.5 254.0 L546.9 255.4 L549.6 257.9 L549.7 259.7 L547.2 259.5 L547.0 260.7 L549.0 264.1 L548.4 265.2 L545.6 263.3 L544.9 263.8 L545.6 267.3 L544.4 267.5 L542.1 264.3 L541.1 264.1 L540.4 266.7 L538.9 265.9 L537.7 262.3 L536.6 261.4 L534.7 262.4 L533.4 260.8 L533.6 257.8 L532.7 256.4 L530.1 255.6 L529.2 253.7 L530.8 252.0 L530.4 250.6 L527.7 248.1 L527.6 246.3 L530.1 246.5 L530.3 245.3 L528.3 241.9 L529.0 240.8 L531.7 242.7 L532.4 242.2 L531.7 238.7 L532.9 238.5 L535.2 241.7 L536.2 241.9 L536.9 239.3 L538.4 240.1 L539.6 243.7 L540.7 244.6 L542.6 243.6 L543.9 245.2 L543.7 248.2Z" fill="#fff" stroke="#000" stroke-width="0.9"/>
<ellipse cx="540.4" cy="252.0" rx="3.9" ry="7.0" transform="rotate(-30 540.4 252.0)" fill="#fff" stroke="#000" stroke-width="1.0" />
<path d="M543.9 258.1 L523.1 270.1 L516.1 257.9 L536.9 245.9" fill="#fff" stroke="#000" stroke-width="1.0"/>
<ellipse cx="519.6" cy="264.0" rx="3.9" ry="7.0" transform="rotate(-30 519.6 264.0)" fill="#fff" stroke="#000" stroke-width="1.0" /></g>
<path d="M330 332.5 L440 278" stroke="#000" stroke-width="0.8" fill="none"/>
<!-- WASHER 14 / PLUG 13 -->
<g fill="#fff" stroke="#000" stroke-width="1.1" stroke-linejoin="round">
<ellipse cx="706.5" cy="246.5" rx="10.5" ry="5.8" transform="rotate(-3 706.5 246.5)"/>
<ellipse cx="706.5" cy="246.8" rx="8" ry="3.3" transform="rotate(-3 706.5 246.8)"/>
<path d="M694.5 270 L700 266.5 L714 266.5 L719.5 271 L719.5 277 L715 283.5 L700 284 L695 279 Z"/>
<path d="M694.5 270 L700 275 L714 275 L719.5 271 M700 275 L701 284 M714 275 L713 283.5" fill="none" stroke-width="0.8"/>
<path d="M700 258 L700 272 C702 274 711 274 713.5 272 L713.5 258 Z"/>
<ellipse cx="706.75" cy="258" rx="6.75" ry="3"/>
<path d="M700 264 C702 266 711 266 713.5 264 M700 268 C702 270 711 270 713.5 268" fill="none" stroke-width="0.9"/>
</g>
<!-- WATERMARK --><g style="mix-blend-mode:multiply">
<path d="M480 203 L513 251" stroke="#cfcfcf" stroke-width="6.5" stroke-linecap="round"/>
<path d="M487 204 C492 196 500 191 510 189.5 C520 188 527 183 532 175 L548.5 207 C540 212 530 216 520 220 C512 224 507 230 503 237 Z" fill="#cfcfcf"/>
<path d="M528.3 205.0 L531.1 207.5 L530.3 210.0 L526.6 210.6 L525.4 212.1 L525.5 215.8 L523.3 217.0 L520.3 214.8 L518.3 215.0 L515.8 217.8 L513.3 217.0 L512.7 213.3 L511.2 212.1 L507.5 212.2 L506.3 210.0 L508.5 207.0 L508.3 205.0 L505.5 202.5 L506.3 200.0 L510.0 199.4 L511.2 197.9 L511.1 194.2 L513.3 193.0 L516.3 195.2 L518.3 195.0 L520.8 192.2 L523.3 193.0 L523.9 196.7 L525.4 197.9 L529.1 197.8 L530.3 200.0 L528.1 203.0Z" fill="none" stroke="#fff" stroke-width="1.8" stroke-linejoin="round"/>
<circle cx="518.3" cy="205" r="5.5" fill="none" stroke="#fff" stroke-width="1.8"/>
</g>
<g id="wm" style="mix-blend-mode:multiply">
<text class="wm" transform="translate(263,406) rotate(-38) scale(0.86,1.22)">PartsRepublik</text>
</g>
</svg>
</body></html>
